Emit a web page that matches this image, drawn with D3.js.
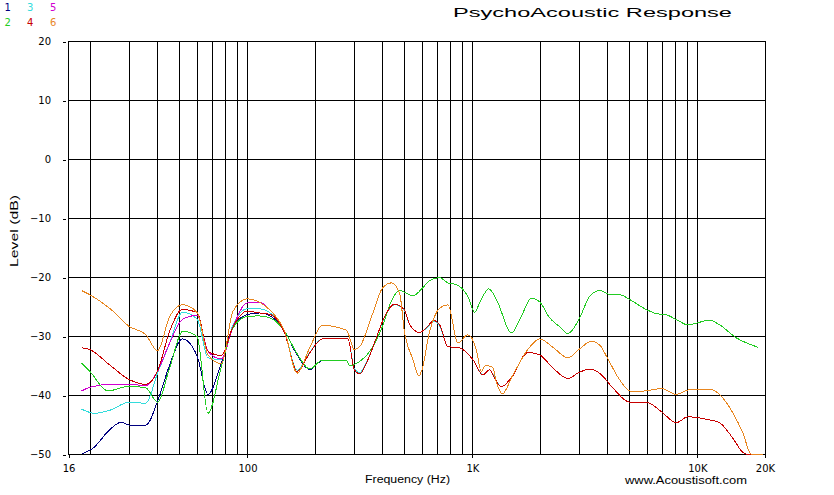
<!DOCTYPE html>
<html><head><meta charset="utf-8">
<script src="https://cdn.jsdelivr.net/npm/d3@7"></script>
<style>
html,body{margin:0;padding:0;background:#fff;}
svg{display:block;}
</style></head>
<body>
<svg id="chart" width="834" height="495"></svg>
<script>
// ---- data ----
const seriesNames = ["1","2","3","4","5","6"];
const seriesColors = ["#000080","#22cc22","#33dcdc","#c80000","#d000d0","#e8861f"];

const freq1 = [18.4,20.7,24.5,27.6,30,35.5,40,45.3,51.6,60,67.1,76.9,86.7,100,114,128,147,167,190,216,277,286,317,363,400,438,477,547,596,649,719,782,852,960,1028,1082,1190,1305,1497,1658,1837,2000,2214,2453,2672,3000,3336,3695,4165,4534,5022,5957,6600,7311,8098,9120,10000,11390,12620,14970,18670];
const level1 = [-50,-49,-45.9,-44.6,-45.1,-45.1,-41.1,-34.9,-30.5,-33.4,-39.9,-34.6,-28.4,-26.4,-26.1,-26.7,-29.2,-33.2,-35.7,-34.2,-34.2,-35,-34.3,-31.8,-28.4,-24.1,-22.3,-23.2,-22.1,-20.6,-20.1,-21,-21.3,-23.3,-26,-24.4,-22,-24.4,-29.5,-26.7,-23.6,-24.2,-26.9,-28.4,-29.6,-27.1,-23.3,-22.3,-23,-23,-23.8,-25.5,-26.2,-26.4,-27.2,-28.1,-27.8,-27.3,-28.1,-30.3,-31.9];

const freq2 = [18.4,20,24.1,30,35.5,40,45.3,51.9,60,67.1,76.9,86.7,100,114,128,147,167,190,216,277,286,317,363,400,438,477,547,596,649,719,782,852,960,1028,1082,1190,1305,1497,1658,1837,2000,2214,2453,2672,3000,3336,3695,4165,4534,5022,5957,6600,7311,8098,9120,10000,11390,12620,14970,18670];
const level2 = [-34.6,-36,-39.3,-38.5,-38.8,-41.2,-35.4,-29.2,-30.1,-43.1,-35.2,-28.6,-26.7,-26.6,-27,-29.2,-33,-35.6,-34.1,-34.1,-35,-34.3,-31.8,-28.4,-24.1,-22.3,-23.2,-22.1,-20.6,-20.1,-21,-21.3,-23.3,-26,-24.4,-22,-24.4,-29.5,-26.7,-23.6,-24.2,-26.9,-28.4,-29.6,-27.1,-23.3,-22.3,-23,-23,-23.8,-25.5,-26.2,-26.4,-27.2,-28.1,-27.8,-27.3,-28.1,-30.3,-31.9];

const freq3 = [18.4,21,24.5,30,35.5,40,45.3,51.6,60,67.1,76.9,86.7,100,114,128,147,167,190,216,281,300,317,345,376,409,453,500,529,586,627,678,719,782,882,1010,1119,1199,1236,1351,1497,1774,2000,2291,2672,2960,3336,3695,4234,5022,5957,6948,8098,9120,11010,12620,14450,16010,16550,19000];
const level3 = [-42.4,-43.1,-42.6,-41.2,-41.4,-36.3,-31.2,-26,-27.1,-33.7,-34,-28.1,-25.4,-25.4,-26.2,-29.4,-35.8,-32.8,-30.5,-30.5,-35.5,-36.2,-33.9,-30.3,-26.8,-24.7,-25.6,-28.1,-29.4,-28.7,-27.5,-28.3,-31.8,-32,-34,-36.5,-35.7,-36.4,-38.6,-37.1,-32.8,-33.2,-35.4,-37.2,-36.3,-35.6,-36.3,-38.8,-41.2,-41.2,-42.8,-44.7,-43.7,-44.1,-44.7,-47.3,-49.7,-50,-50];

const freq4 = [18.4,20,24.5,30,35.5,40,45.3,51.6,60,67.1,76.9,86.7,100,114,128,147,167,190,216,281,300,317,345,376,409,453,500,529,586,627,678,719,782,882,1010,1119,1199,1236,1351,1497,1774,2000,2291,2672,2960,3336,3695,4234,5022,5957,6948,8098,9120,11010,12620,14450,16010,16550,19000];
const level4 = [-32,-32.3,-34.9,-37.4,-38.2,-36,-29.2,-25.5,-26,-32.6,-33.3,-28.4,-25.8,-26.1,-26.4,-29.5,-36,-32.9,-30.5,-30.5,-35.7,-36.4,-34,-30.3,-26.7,-24.6,-25.5,-28.1,-29.4,-28.6,-27.4,-28.1,-31.8,-32,-34,-36.6,-35.7,-36.5,-38.6,-37.1,-32.8,-33.2,-35.4,-37.2,-36.3,-35.6,-36.3,-38.8,-41.2,-41.2,-42.8,-44.7,-43.7,-44.1,-44.7,-47.3,-49.7,-50,-50];

const freq5 = [18.4,20,24.5,30,35.5,40,45.3,51.6,60,67.1,76.9,86.7,100,114,128,147,167,190,216,277,300,317,363,400,438,477,500,547,581,600,649,719,782,867,960,1046,1101,1150,1236,1283,1365,1521,1805,2000,2291,2672,3010,3394,3695,4000,4534,5110,5957,6948,8098,9281,11390,12620,14450,16010,17450,19700];
const level5 = [-39.3,-38.7,-38.2,-38.2,-38.4,-36,-31.2,-27.2,-26.5,-32.6,-33.9,-28.4,-24.4,-24.3,-25.8,-29.2,-36.3,-32,-28.2,-29,-32.3,-31.8,-26.1,-21.9,-21,-22.7,-29,-34,-36.8,-35.7,-29.2,-25.3,-24.7,-31.2,-29.8,-32.3,-36,-35,-35.3,-37.7,-39.8,-36.6,-31.9,-30.5,-31.9,-33.7,-32.2,-30.9,-31.5,-33.7,-37.4,-39.4,-39.3,-38.9,-39.9,-39.1,-39,-39.9,-43,-46.4,-50,-50];

const freq6 = [18.4,20,24.5,30,35.5,40,45.3,51.6,60,67.1,76.9,86.7,100,114,128,147,167,190,216,277,300,317,363,400,438,477,500,547,581,600,649,719,782,867,960,1046,1101,1150,1236,1283,1365,1521,1805,2000,2291,2672,3010,3394,3695,4000,4534,5110,5957,6948,8098,9281,11390,12620,14450,16010,17450,19700];
const level6 = [-22.3,-23,-25.3,-28.4,-29.8,-32.5,-26.7,-24.7,-26,-33.2,-34.7,-25.8,-23.7,-24.3,-25.8,-29.2,-36.3,-32,-28.2,-29,-32.3,-31.8,-26.1,-21.9,-21,-22.7,-29,-34,-36.8,-35.7,-29.2,-25.3,-24.7,-31.2,-29.8,-32.3,-36,-35,-35.3,-37.7,-39.8,-36.6,-31.9,-30.5,-31.9,-33.7,-32.2,-30.9,-31.5,-33.7,-37.4,-39.4,-39.3,-38.9,-39.9,-39.1,-39,-39.9,-43,-46.4,-50,-50];

const xTickValues = [16,100,1000,10000,20000];
const xTickLabels = ["16","100","1K","10K","20K"];
const yTickValues = [20,10,0,-10,-20,-30,-40,-50];
const gridFreqs = [20,30,40,50,60,70,80,90,100,200,300,400,500,600,700,800,900,1000,2000,3000,4000,5000,6000,7000,8000,9000,10000,20000];
const gridLevels = [20,10,0,-10,-20,-30,-40];

const titleText = "PsychoAcoustic Response";
const xTitle = "Frequency (Hz)";
const yTitle = "Level (dB)";
const creditText = "www.Acoustisoft.com";

// ---- drawing ----
const svg = d3.select("#chart");
const x = d3.scaleLog().domain([16,20000]).range([68,764.5]);
const y = d3.scaleLinear().domain([-50,20]).range([454,41]);
const px = v => Math.round(v) + 0.5;
const numFont = "'DejaVu Sans', sans-serif";
const txtFont = "'Liberation Sans', Arial, sans-serif";

// grid
const g = svg.append("g").attr("shape-rendering","crispEdges");
g.selectAll("line.v").data(gridFreqs).join("line")
  .attr("x1", d=>px(x(d))).attr("x2", d=>px(x(d)))
  .attr("y1", y(20)).attr("y2", y(-50))
  .attr("stroke","#000").attr("stroke-width",1);
g.selectAll("line.h").data(gridLevels).join("line")
  .attr("x1", x(16)).attr("x2", px(x(20000)))
  .attr("y1", d=>px(y(d))).attr("y2", d=>px(y(d)))
  .attr("stroke","#000").attr("stroke-width",1);
g.append("line").attr("x1",px(x(16))).attr("x2",px(x(16))).attr("y1",y(20)).attr("y2",px(y(-50))).attr("stroke","#000");
g.append("line").attr("x1",px(x(16))).attr("x2",px(x(20000))).attr("y1",px(y(-50))).attr("y2",px(y(-50))).attr("stroke","#000");

// x axis
const xAxis = d3.axisBottom(x).tickValues(xTickValues)
  .tickFormat((d,i)=>xTickLabels[i]).tickSize(3).tickPadding(7);
const xg = svg.append("g").attr("transform",`translate(0.5,${px(y(-50))})`).call(xAxis);
xg.select(".domain").remove();
xg.selectAll("line").attr("stroke","#000").attr("shape-rendering","crispEdges");
xg.selectAll("text").attr("font-family",numFont).attr("font-size","10px").attr("fill","#000");

// y axis
const yAxis = d3.axisLeft(y).tickValues(yTickValues).tickSize(3).tickPadding(12);
const yg = svg.append("g").attr("transform",`translate(66,0.5)`).call(yAxis);
yg.select(".domain").remove();
yg.selectAll("line").attr("stroke","#000").attr("shape-rendering","crispEdges");
yg.selectAll("text").attr("font-family",numFont).attr("font-size","10px").attr("fill","#000");

// series
const allFreqs = [freq1,freq2,freq3,freq4,freq5,freq6];
const allLevels = [level1,level2,level3,level4,level5,level6];
const line = d3.line().x(d=>x(d[0])).y(d=>y(d[1])).curve(d3.curveMonotoneX);
const drawOrder = [0,2,4,1,3,5];
drawOrder.forEach(i=>{
  const pts = allFreqs[i].map((f,k)=>[f, allLevels[i][k]]);
  svg.append("path").datum(pts).attr("d",line)
    .attr("fill","none").attr("stroke",seriesColors[i]).attr("stroke-width",1)
    .attr("shape-rendering","crispEdges");
});

// legend
const legX = [4.5,4.5,27,27,50,50];
const legY = [11,26,11,26,11,26];
svg.selectAll("text.leg").data(seriesNames).join("text")
  .attr("class","leg")
  .attr("x",(d,i)=>legX[i]).attr("y",(d,i)=>legY[i])
  .attr("font-family",numFont).attr("font-size","10px")
  .attr("fill",(d,i)=>seriesColors[i]).text(d=>d);

// titles
svg.append("text").attr("x",453).attr("y",17)
  .attr("font-family",txtFont).attr("font-size","13.5px")
  .attr("textLength",279).attr("lengthAdjust","spacingAndGlyphs").text(titleText);
svg.append("text").attr("x",365).attr("y",483)
  .attr("font-family",txtFont).attr("font-size","10px")
  .attr("textLength",85).attr("lengthAdjust","spacingAndGlyphs").text(xTitle);
svg.append("text").attr("x",625).attr("y",484)
  .attr("font-family",txtFont).attr("font-size","10px")
  .attr("textLength",122).attr("lengthAdjust","spacingAndGlyphs").text(creditText);
svg.append("text").attr("transform","translate(18,231) rotate(-90)")
  .attr("text-anchor","middle")
  .attr("font-family",txtFont).attr("font-size","10px")
  .attr("textLength",72).attr("lengthAdjust","spacingAndGlyphs").text(yTitle);
</script>
</body></html>
